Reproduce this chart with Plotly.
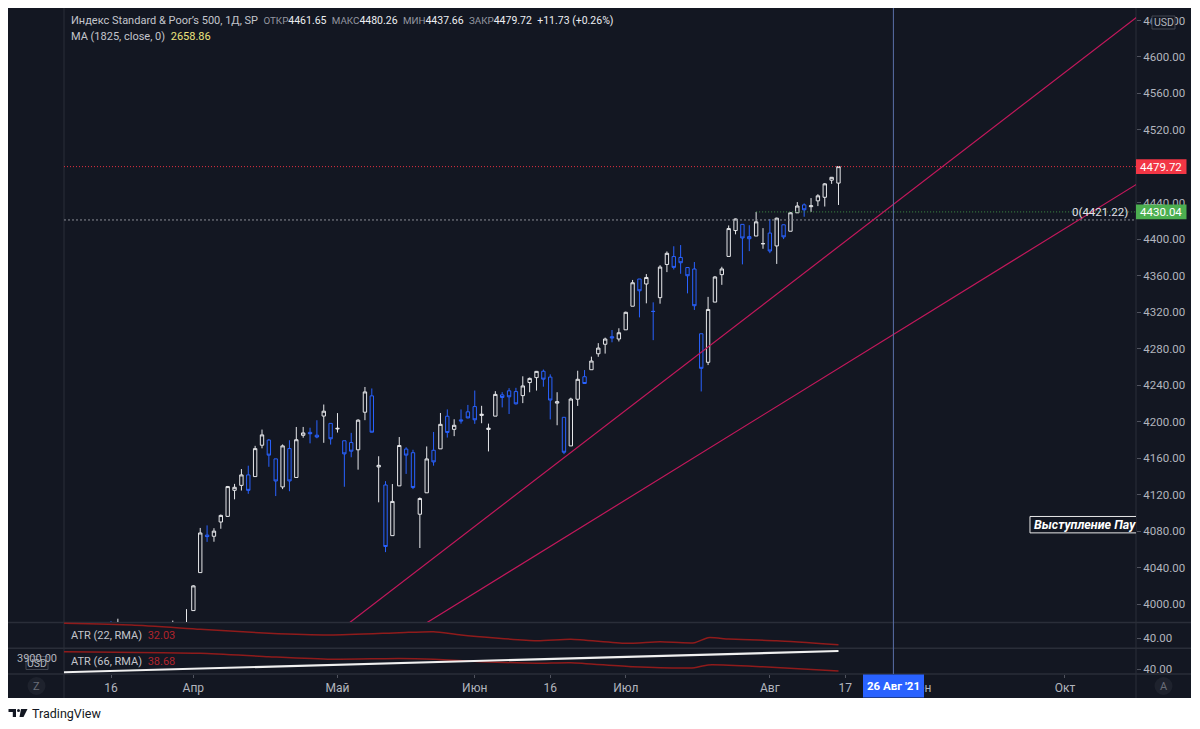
import plotly.graph_objects as go
import pandas as pd

# ---------------- data ----------------
dates = [
    "2021-03-04", "2021-03-05", "2021-03-08", "2021-03-09", "2021-03-10", "2021-03-11", "2021-03-12",
    "2021-03-15", "2021-03-16", "2021-03-17", "2021-03-18", "2021-03-19",
    "2021-03-22", "2021-03-23", "2021-03-24", "2021-03-25", "2021-03-26",
    "2021-03-29", "2021-03-30", "2021-03-31", "2021-04-01",
    "2021-04-05", "2021-04-06", "2021-04-07", "2021-04-08", "2021-04-09",
    "2021-04-12", "2021-04-13", "2021-04-14", "2021-04-15", "2021-04-16",
    "2021-04-19", "2021-04-20", "2021-04-21", "2021-04-22", "2021-04-23",
    "2021-04-26", "2021-04-27", "2021-04-28", "2021-04-29", "2021-04-30",
    "2021-05-03", "2021-05-04", "2021-05-05", "2021-05-06", "2021-05-07",
    "2021-05-10", "2021-05-11", "2021-05-12", "2021-05-13", "2021-05-14",
    "2021-05-17", "2021-05-18", "2021-05-19", "2021-05-20", "2021-05-21",
    "2021-05-24", "2021-05-25", "2021-05-26", "2021-05-27", "2021-05-28",
    "2021-06-01", "2021-06-02", "2021-06-03", "2021-06-04",
    "2021-06-07", "2021-06-08", "2021-06-09", "2021-06-10", "2021-06-11",
    "2021-06-14", "2021-06-15", "2021-06-16", "2021-06-17", "2021-06-18",
    "2021-06-21", "2021-06-22", "2021-06-23", "2021-06-24", "2021-06-25",
    "2021-06-28", "2021-06-29", "2021-06-30",
    "2021-07-01", "2021-07-02", "2021-07-06", "2021-07-07", "2021-07-08", "2021-07-09",
    "2021-07-12", "2021-07-13", "2021-07-14", "2021-07-15", "2021-07-16",
    "2021-07-19", "2021-07-20", "2021-07-21", "2021-07-22", "2021-07-23",
    "2021-07-26", "2021-07-27", "2021-07-28", "2021-07-29", "2021-07-30",
    "2021-08-02", "2021-08-03", "2021-08-04", "2021-08-05", "2021-08-06",
    "2021-08-09", "2021-08-10", "2021-08-11", "2021-08-12", "2021-08-13",
    "2021-08-16",
]
opens = [
    3818.53, 3793.58, 3844.39, 3851.93, 3891.99, 3915.54, 3924.52,
    3942.96, 3973.59, 3949.57, 3953.50, 3913.14,
    3916.48, 3937.60, 3919.93, 3879.34, 3917.12,
    3969.31, 3963.34, 3967.25, 3992.78,
    4034.44, 4075.57, 4074.29, 4089.95, 4096.11,
    4124.71, 4130.10, 4141.58, 4139.76, 4174.14,
    4179.80, 4159.18, 4128.42, 4170.46, 4138.78,
    4185.03, 4188.25, 4185.14, 4206.14, 4198.10,
    4191.98, 4179.04, 4177.06, 4169.14, 4210.34,
    4228.29, 4150.34, 4130.55, 4074.99, 4129.58,
    4169.92, 4165.94, 4098.45, 4121.97, 4168.61,
    4170.16, 4205.94, 4191.59, 4201.94, 4210.77,
    4216.52, 4206.82, 4191.43, 4206.05,
    4229.34, 4233.81, 4232.99, 4228.56, 4242.90,
    4248.31, 4255.28, 4248.87, 4220.37, 4204.78,
    4173.40, 4224.61, 4249.27, 4256.97, 4274.45,
    4284.90, 4293.21, 4290.65,
    4300.73, 4326.60, 4356.46, 4351.01, 4321.07, 4336.00,
    4372.41, 4381.07, 4380.11, 4369.02, 4367.43,
    4296.40, 4265.11, 4331.13, 4361.27, 4381.20,
    4409.58, 4416.38, 4402.95, 4403.59, 4395.12,
    4406.86, 4392.74, 4415.95, 4408.86, 4429.07,
    4437.77, 4435.79, 4442.18, 4446.08, 4464.84,
    4461.65,
]
highs = [
    3843.67, 3851.69, 3881.06, 3903.76, 3917.35, 3960.27, 3944.99,
    3970.08, 3981.04, 3983.87, 3969.62, 3930.12,
    3955.31, 3949.13, 3942.08, 3919.54, 3978.19,
    3981.83, 3968.01, 3994.41, 4020.63,
    4083.42, 4086.23, 4083.13, 4098.19, 4129.48,
    4131.76, 4148.00, 4151.69, 4173.49, 4191.31,
    4180.81, 4159.18, 4175.02, 4179.57, 4194.17,
    4194.19, 4193.35, 4201.53, 4218.78, 4198.10,
    4209.39, 4179.04, 4187.72, 4202.70, 4238.04,
    4236.39, 4162.04, 4134.73, 4131.58, 4183.13,
    4171.92, 4169.15, 4116.93, 4172.80, 4188.72,
    4209.52, 4213.42, 4202.61, 4213.38, 4218.36,
    4234.12, 4217.37, 4197.82, 4233.45,
    4232.34, 4236.74, 4237.09, 4249.74, 4248.38,
    4255.59, 4257.16, 4251.89, 4232.29, 4204.78,
    4226.24, 4255.84, 4256.60, 4271.28, 4286.12,
    4292.14, 4300.52, 4302.43,
    4320.66, 4355.43, 4356.46, 4361.88, 4330.88, 4371.60,
    4386.68, 4392.37, 4393.68, 4369.02, 4375.09,
    4296.40, 4336.84, 4359.70, 4369.87, 4415.18,
    4422.73, 4416.38, 4415.47, 4429.97, 4412.25,
    4422.18, 4423.79, 4416.17, 4429.76, 4440.82,
    4439.39, 4445.21, 4449.44, 4461.77, 4468.37,
    4480.26,
]
lows = [
    3723.34, 3730.19, 3819.25, 3851.93, 3885.73, 3915.54, 3915.21,
    3923.54, 3953.44, 3935.74, 3910.86, 3886.75,
    3914.16, 3901.57, 3889.07, 3853.50, 3917.12,
    3943.25, 3944.35, 3966.98, 3992.78,
    4034.44, 4068.14, 4068.31, 4082.54, 4095.51,
    4114.82, 4124.43, 4120.87, 4139.76, 4170.75,
    4150.47, 4118.38, 4126.01, 4123.69, 4138.78,
    4182.36, 4176.22, 4181.78, 4176.81, 4174.85,
    4188.03, 4128.59, 4160.94, 4147.33, 4201.64,
    4188.13, 4111.53, 4056.88, 4074.99, 4129.58,
    4142.69, 4125.99, 4061.41, 4121.97, 4151.72,
    4170.16, 4182.52, 4184.11, 4197.78, 4203.57,
    4197.59, 4198.27, 4167.34, 4206.05,
    4215.66, 4208.41, 4218.74, 4220.34, 4232.25,
    4234.07, 4238.35, 4202.45, 4196.05, 4164.40,
    4173.40, 4217.27, 4241.43, 4256.97, 4271.16,
    4274.67, 4287.04, 4287.96,
    4300.73, 4326.60, 4314.37, 4329.79, 4289.37, 4329.38,
    4364.03, 4366.92, 4362.18, 4340.70, 4322.53,
    4233.13, 4262.05, 4331.13, 4350.06, 4381.20,
    4405.45, 4372.51, 4387.01, 4403.59, 4389.65,
    4384.81, 4373.00, 4400.23, 4408.86, 4429.07,
    4424.74, 4430.03, 4436.42, 4435.96, 4460.82,
    4437.66,
]
closes = [
    3768.47, 3841.94, 3821.35, 3875.44, 3898.81, 3939.34, 3943.34,
    3968.94, 3962.71, 3974.12, 3915.46, 3913.10,
    3940.59, 3910.52, 3889.14, 3909.52, 3974.54,
    3971.09, 3958.55, 3972.89, 4019.87,
    4077.91, 4073.94, 4079.95, 4097.17, 4128.80,
    4127.99, 4141.59, 4124.66, 4170.42, 4185.47,
    4163.26, 4134.94, 4173.42, 4134.98, 4180.17,
    4187.62, 4186.72, 4183.18, 4211.47, 4181.17,
    4192.66, 4164.66, 4167.59, 4201.62, 4232.60,
    4188.43, 4152.10, 4063.04, 4112.50, 4173.85,
    4163.29, 4127.83, 4115.68, 4159.12, 4155.86,
    4197.05, 4188.13, 4195.99, 4200.88, 4204.11,
    4202.04, 4208.12, 4192.85, 4229.89,
    4226.52, 4227.26, 4219.55, 4239.18, 4247.44,
    4255.15, 4246.59, 4223.70, 4221.86, 4166.45,
    4224.79, 4246.44, 4241.84, 4266.49, 4280.70,
    4290.61, 4291.80, 4297.50,
    4319.94, 4352.34, 4343.54, 4358.13, 4320.82, 4369.55,
    4384.63, 4369.21, 4374.30, 4360.03, 4327.16,
    4258.49, 4323.06, 4358.69, 4367.48, 4411.79,
    4422.30, 4401.46, 4400.64, 4419.15, 4395.26,
    4387.16, 4423.15, 4402.66, 4429.10, 4436.52,
    4432.35, 4436.75, 4447.70, 4460.83, 4468.00,
    4479.72,
]

atr22_dates = ["2021-03-04", "2021-03-19", "2021-04-05", "2021-04-19", "2021-04-30", "2021-05-14",
               "2021-05-21", "2021-05-27", "2021-06-14", "2021-06-21", "2021-07-01", "2021-07-09",
               "2021-07-16", "2021-07-20", "2021-07-23", "2021-08-03", "2021-08-16"]
atr22_values = [57.8, 55.5, 50.4, 45.6, 43.6, 46.3, 47.5, 43.6, 36.8, 38.5, 33.7, 35.6,
                34.4, 40.4, 38.8, 36.8, 32.03]

atr66_dates = ["2021-03-04", "2021-04-05", "2021-04-19", "2021-04-30", "2021-05-14", "2021-05-21",
               "2021-06-02", "2021-06-14", "2021-06-21", "2021-07-02", "2021-07-16", "2021-07-20",
               "2021-07-30", "2021-08-16"]
atr66_values = [51.6, 50.5, 48.2, 46.5, 47.0, 46.5, 44.9, 43.8, 44.2, 41.5, 40.9, 42.7, 41.5, 38.68]

ma_dates = ["2021-03-04", "2021-04-01", "2021-05-03", "2021-06-01", "2021-07-01", "2021-08-02", "2021-08-16"]
ma_values = [2510.7, 2536.7, 2564.0, 2590.0, 2618.6, 2645.9, 2658.86]

# trend lines (anchor date, price)
trend_upper = [("2021-04-28", 3952.0), ("2021-10-18", 4646.7)]
trend_lower = [("2021-05-17", 3965.5), ("2021-10-18", 4463.0)]

last_price = 4479.72
level_price = 4421.22
alert_price = 4430.04
alert_start = "2021-07-29"
cursor_date = "2021-08-26"
note_date = "2021-09-24"
note_prices = (4078.0, 4096.0)

price_ticks = [4000, 4040, 4080, 4120, 4160, 4200, 4240, 4280, 4320, 4360, 4400,
               4440, 4480, 4520, 4560, 4600, 4640]
time_tick_dates = ["2021-03-16", "2021-04-01", "2021-05-03", "2021-06-01", "2021-06-16",
                   "2021-07-01", "2021-08-02", "2021-08-17", "2021-09-01", "2021-10-01"]
time_tick_labels = ["16", "Апр", "Май", "Июн", "16", "Июл", "Авг", "17", "Сен", "Окт"]

# ---------------- trading calendar (bar index axis) ----------------
holidays = ["2021-04-02", "2021-05-31", "2021-07-05", "2021-09-06"]
cal = pd.bdate_range("2021-03-01", "2021-10-29", freq="C", holidays=holidays)
pos = {d.strftime("%Y-%m-%d"): i for i, d in enumerate(cal)}
BASE = pos["2021-03-16"]


def bar(d):
    return pos[d] - BASE


X_RANGE = [-6.85, 149.35]
Y_RANGE = [3980.26, 4653.7]
ATR22_RANGE = [28.1, 59.05]
ATR66_RANGE = [36.67, 54.0]
MA_RANGE = [2500.1, 2679.6]

# ---------------- pixel helpers ----------------
L, R, T, B = 64, 1136, 8, 674


def px(x):
    return (x - L) / (R - L)


def py(y):
    return (B - y) / (B - T)


MAIN_BOT = py(622)
P1_BOT = py(648)


def price_paper(p):
    return MAIN_BOT + (p - Y_RANGE[0]) / (Y_RANGE[1] - Y_RANGE[0]) * (1 - MAIN_BOT)


def bar_paper(i):
    return (i - X_RANGE[0]) / (X_RANGE[1] - X_RANGE[0])


BG = "#131722"
GRID = "#2a2e39"
TXT = "#b2b5be"
UP = "#e6e7ea"
DN = "#2962ff"
ATRC = "#8f1b1b"
TREND = "#c2185b"
FONT = "Roboto"

fig = go.Figure()

fig.add_trace(go.Candlestick(
    x=[bar(d) for d in dates], open=opens, high=highs, low=lows, close=closes,
    increasing=dict(line=dict(color=UP, width=1), fillcolor=BG),
    decreasing=dict(line=dict(color=DN, width=1), fillcolor=BG),
    whiskerwidth=0, hoverinfo="skip", showlegend=False, xaxis="x", yaxis="y",
))
fig.add_trace(go.Scatter(
    x=[bar(d) for d in atr22_dates], y=atr22_values, mode="lines", yaxis="y2",
    line=dict(color=ATRC, width=1.5, shape="spline", smoothing=0.6), hoverinfo="skip", showlegend=False,
))
fig.add_trace(go.Scatter(
    x=[bar(d) for d in atr66_dates], y=atr66_values, mode="lines", yaxis="y3",
    line=dict(color=ATRC, width=1.5, shape="spline", smoothing=0.6), hoverinfo="skip", showlegend=False,
))
fig.add_trace(go.Scatter(
    x=[bar(d) for d in ma_dates], y=ma_values, mode="lines", yaxis="y4",
    line=dict(color="#f0f0f0", width=2.2), hoverinfo="skip", showlegend=False,
))

shapes = []
# dark frame
shapes.append(dict(type="rect", xref="paper", yref="paper", x0=px(8), x1=px(1191), y0=py(698), y1=py(8),
                   fillcolor=BG, line=dict(width=0), layer="below"))
# separators
for yy in (622.5, 648.3, 674):
    shapes.append(dict(type="line", xref="paper", yref="paper", x0=px(8), x1=px(1191), y0=py(yy), y1=py(yy),
                       line=dict(color=GRID, width=1.5), layer="below"))
for xx in (64, 1136):
    shapes.append(dict(type="line", xref="paper", yref="paper", x0=px(xx), x1=px(xx), y0=py(698), y1=py(8),
                       line=dict(color=GRID, width=1), layer="below"))

# horizontal dotted lines
shapes.append(dict(type="line", xref="x", yref="y", x0=X_RANGE[0], x1=X_RANGE[1], y0=last_price, y1=last_price,
                   line=dict(color="#e0303f", width=1, dash="1px,2px")))
shapes.append(dict(type="line", xref="x", yref="y", x0=X_RANGE[0], x1=X_RANGE[1], y0=level_price, y1=level_price,
                   line=dict(color="#8a8d96", width=1, dash="2px,2px")))
shapes.append(dict(type="line", xref="x", yref="y", x0=bar(alert_start), x1=X_RANGE[1], y0=alert_price,
                   y1=alert_price, line=dict(color="#3f8f44", width=1, dash="1px,2px")))
# trend lines
for tl in (trend_upper, trend_lower):
    shapes.append(dict(type="line", xref="x", yref="y", x0=bar(tl[0][0]), y0=tl[0][1], x1=bar(tl[1][0]),
                       y1=tl[1][1], line=dict(color=TREND, width=1.2)))
# note box
shapes.append(dict(type="rect", xref="x", yref="y", x0=bar(note_date) - 0.1, x1=bar(note_date) + 40,
                   y0=note_prices[0], y1=note_prices[1], fillcolor=BG, line=dict(color="#e8e8e8", width=1)))
# cursor vertical line
cx = bar_paper(bar(cursor_date))
shapes.append(dict(type="line", xref="paper", yref="paper", x0=cx, x1=cx, y0=0, y1=1,
                   line=dict(color="#5a6fa8", width=1)))
# price labels on the scale
for p, col in ((last_price, "#f23645"), (alert_price, "#4caf50")):
    yc = price_paper(p)
    h = 7.3 / (B - T)
    shapes.append(dict(type="rect", xref="paper", yref="paper", x0=px(1136), x1=px(1186.5), y0=yc - h, y1=yc + h,
                       fillcolor=col, line=dict(width=0)))
# cursor date box
shapes.append(dict(type="rect", xref="paper", yref="paper", x0=px(863), x1=px(924), y0=py(697.5), y1=py(674.5),
                   fillcolor="#2962ff", line=dict(width=0)))
# USD badges
shapes.append(dict(type="rect", xref="paper", yref="paper", x0=px(1152), x1=px(1175), y0=py(29), y1=py(16),
                   fillcolor=BG, line=dict(color="#434651", width=1)))
shapes.append(dict(type="rect", xref="paper", yref="paper", x0=px(26), x1=px(48), y0=py(669.5), y1=py(656.5),
                   fillcolor=BG, line=dict(color="#434651", width=1)))
# Z / A buttons
for cxp in (36.5, 1163.5):
    shapes.append(dict(type="circle", xref="paper", yref="paper", x0=px(cxp - 9), x1=px(cxp + 9),
                       y0=py(695), y1=py(677), fillcolor="#1e222d", line=dict(width=0)))
# TradingView logo
shapes.append(dict(type="path", xref="paper", yref="paper",
                   path=f"M {px(8.5)} {py(709)} L {px(16)} {py(709)} L {px(16)} {py(717)} L {px(12.8)} {py(717)} "
                        f"L {px(12.8)} {py(712)} L {px(8.5)} {py(712)} Z",
                   fillcolor="#131722", line=dict(width=0)))
shapes.append(dict(type="circle", xref="paper", yref="paper", x0=px(17), x1=px(20), y0=py(712), y1=py(709),
                   fillcolor="#131722", line=dict(width=0)))
shapes.append(dict(type="path", xref="paper", yref="paper",
                   path=f"M {px(21)} {py(709)} L {px(27.5)} {py(709)} L {px(23.5)} {py(717)} L {px(19.5)} {py(717)} Z",
                   fillcolor="#131722", line=dict(width=0)))

ann = []


def text(x, y, s, color=TXT, size=11.5, xanchor="left", yanchor="middle", **kw):
    ann.append(dict(xref="paper", yref="paper", x=px(x), y=py(y), text=s, showarrow=False,
                    xanchor=xanchor, yanchor=yanchor, font=dict(family=FONT, size=size, color=color), **kw))


SP = "\u2002"
LBL = "#9598a1"
VAL = "#eceef2"


def lab(s):
    return f"<span style='color:{LBL};font-size:9.8px'>{s}</span>"


header = (f"<span style='color:#c3c5cc;font-size:11px'>Индекс Standard &amp; Poor’s 500, 1Д, SP</span>{SP}"
          f"{lab('ОТКР')}4461.65{SP}"
          f"{lab('МАКС')}4480.26{SP}"
          f"{lab('МИН')}4437.66{SP}"
          f"{lab('ЗАКР')}4479.72{SP}+11.73 (+0.26%)")
text(69, 20.5, header, color=VAL, size=10.5)
text(69, 36.5, f"MA (1825, close, 0){SP}<span style='color:#ece37d'>2658.86</span>", color="#c3c5cc", size=11)
text(69, 635.5, f"ATR (22, RMA){SP}<span style='color:#b0242c'>32.03</span>", color="#c3c5cc", size=11)
text(69, 661.5, f"ATR (66, RMA){SP}<span style='color:#b0242c'>38.68</span>", color="#c3c5cc", size=11)

# price labels
ann.append(dict(xref="paper", yref="paper", x=px(1161.3), y=price_paper(last_price), text=f"{last_price:.2f}",
                showarrow=False, xanchor="center", yanchor="middle",
                font=dict(family=FONT, size=11.5, color="#ffffff")))
ann.append(dict(xref="paper", yref="paper", x=px(1161.3), y=price_paper(alert_price), text=f"{alert_price:.2f}",
                showarrow=False, xanchor="center", yanchor="middle",
                font=dict(family=FONT, size=11.5, color="#ffffff")))
ann.append(dict(xref="paper", yref="y", x=px(1130), y=level_price, text=f"0({level_price:.2f})",
                showarrow=False, xanchor="right", yanchor="bottom", yshift=-1,
                font=dict(family=FONT, size=11.5, color="#e0e2e8")))
# note text
ann.append(dict(xref="x", yref="y", x=bar(note_date) - 0.1, y=sum(note_prices) / 2, xshift=2,
                text="<b><i>Выступление Пау</i></b>", showarrow=False, xanchor="left", yanchor="middle",
                font=dict(family=FONT, size=12.5, color="#ffffff")))
# cursor date
text(893.5, 686, "<b>26 Авг '21</b>", color="#ffffff", size=11.5, xanchor="center")
# badges
text(1163.5, 22.5, "USD", color=TXT, size=10.5, xanchor="center")
text(37, 658.5, "3900.00", color=TXT, size=11, xanchor="center")
text(37, 663, "USD", color=TXT, size=10.5, xanchor="center")
text(36.5, 686, "Z", color="#6a6d78", size=11, xanchor="center")
text(1163.5, 686, "A", color="#6a6d78", size=11, xanchor="center")
text(30, 713, "TradingView", color="#131722", size=12.5)

axis_font = dict(family=FONT, size=11.5, color=TXT)
fig.update_layout(
    width=1200, height=729,
    margin=dict(l=L, r=1200 - R, t=T, b=729 - B),
    paper_bgcolor="#ffffff", plot_bgcolor=BG,
    showlegend=False, hovermode=False,
    boxgap=0.3,
    font=dict(family=FONT),
    xaxis=dict(domain=[0, 1], range=X_RANGE, anchor="y3", tickvals=[bar(d) for d in time_tick_dates],
               ticktext=time_tick_labels, ticks="outside", ticklen=3, tickcolor="#50535e",
               showgrid=False, zeroline=False, showline=False, tickfont=dict(family=FONT, size=12, color=TXT),
               rangeslider=dict(visible=False), fixedrange=True),
    yaxis=dict(domain=[MAIN_BOT, 1], range=Y_RANGE, side="right", anchor="x", tickvals=price_ticks,
               tickformat=".2f", ticks="outside", ticklen=4, tickcolor="#50535e", showgrid=False,
               zeroline=False, showline=False, tickfont=axis_font),
    yaxis2=dict(domain=[P1_BOT, MAIN_BOT], range=ATR22_RANGE, side="right", anchor="x", tickvals=[40],
                tickformat=".2f", ticks="outside", ticklen=4, tickcolor="#50535e", showgrid=False,
                zeroline=False, showline=False, tickfont=axis_font),
    yaxis3=dict(domain=[0, P1_BOT], range=ATR66_RANGE, side="right", anchor="x", tickvals=[40],
                tickformat=".2f", ticks="outside", ticklen=4, tickcolor="#50535e", showgrid=False,
                zeroline=False, showline=False, tickfont=axis_font),
    yaxis4=dict(overlaying="y3", range=MA_RANGE, visible=False, anchor="x"),
    shapes=shapes,
    annotations=ann,
)

fig.write_html("out.html")
